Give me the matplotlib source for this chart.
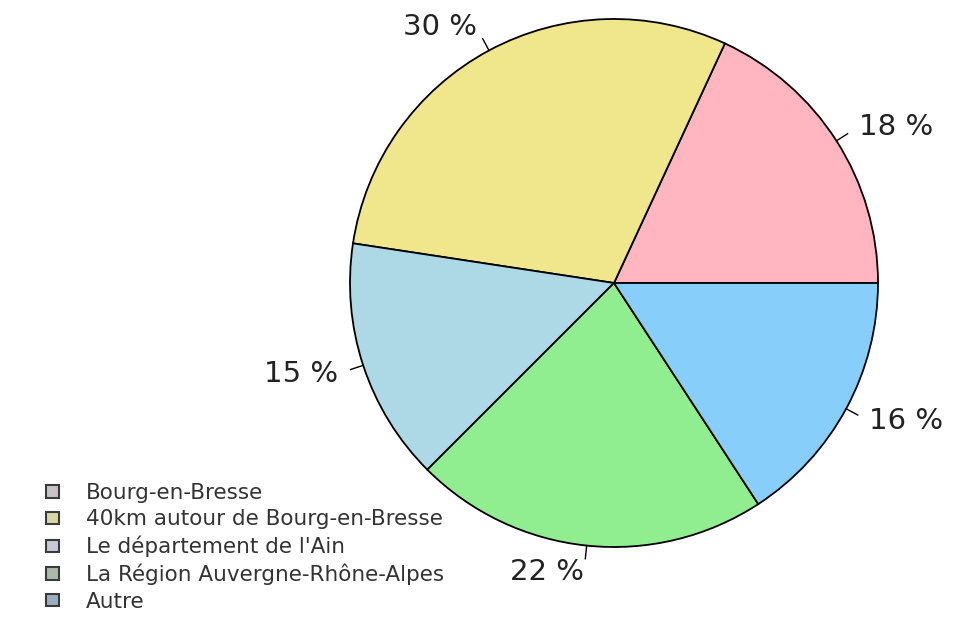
import matplotlib
matplotlib.use("Agg")
import matplotlib.pyplot as plt
import numpy as np
from matplotlib.patches import Patch

plt.rcParams["font.family"] = ["DejaVu Sans"]

categories = [
    "Bourg-en-Bresse",
    "40km autour de Bourg-en-Bresse",
    "Le département de l'Ain",
    "La Région Auvergne-Rhône-Alpes",
    "Autre",
]
shares = [18.1, 29.5, 14.9, 21.7, 15.8]
pie_colors = ["#FFB6C1", "#F0E68C", "#ADD8E6", "#90EE90", "#87CEFA"]
legend_colors = ["#C9C3C8", "#D8D6A6", "#C6C9DA", "#A9BCA9", "#9AAEC2"]

W, H = 969, 622
cx, cy, r = 614, H - 283, 264

fig = plt.figure(figsize=(W / 100, H / 100), dpi=100)
ax = fig.add_axes([0, 0, 1, 1])
wedges, _ = ax.pie(shares, colors=pie_colors, startangle=0, counterclock=True,
                   center=(cx, cy), radius=r, frame=True,
                   wedgeprops={"edgecolor": "black", "linewidth": 1.3})
ax.set_xlim(0, W)
ax.set_ylim(0, H)
ax.set_aspect("equal")
ax.axis("off")

# percentage labels with small tick marks, R style
for w, val in zip(wedges, shares):
    ang = np.deg2rad((w.theta1 + w.theta2) / 2)
    c, s = np.cos(ang), np.sin(ang)
    ax.plot([cx + r * c, cx + 1.05 * r * c], [cy + r * s, cy + 1.05 * r * s],
            color="black", linewidth=1.0)
    ax.text(cx + 1.1 * r * c, cy + 1.1 * r * s, f"{round(val):.0f} %",
            ha="left" if c > 0 else "right", va="center",
            fontsize=21, color="#222222")

handles = [Patch(facecolor=col, edgecolor="#3A3A3A", linewidth=1.5)
           for col in legend_colors]
fig.legend(handles, categories, loc="upper left",
           bbox_to_anchor=(46 / W, 1 - 483 / H), frameon=False,
           fontsize=15.5, handlelength=0.62, handleheight=0.52,
           handletextpad=1.25, labelspacing=0.3, borderpad=0,
           borderaxespad=0, labelcolor="#333333")

fig.savefig("out.png", dpi=100, facecolor="white")
